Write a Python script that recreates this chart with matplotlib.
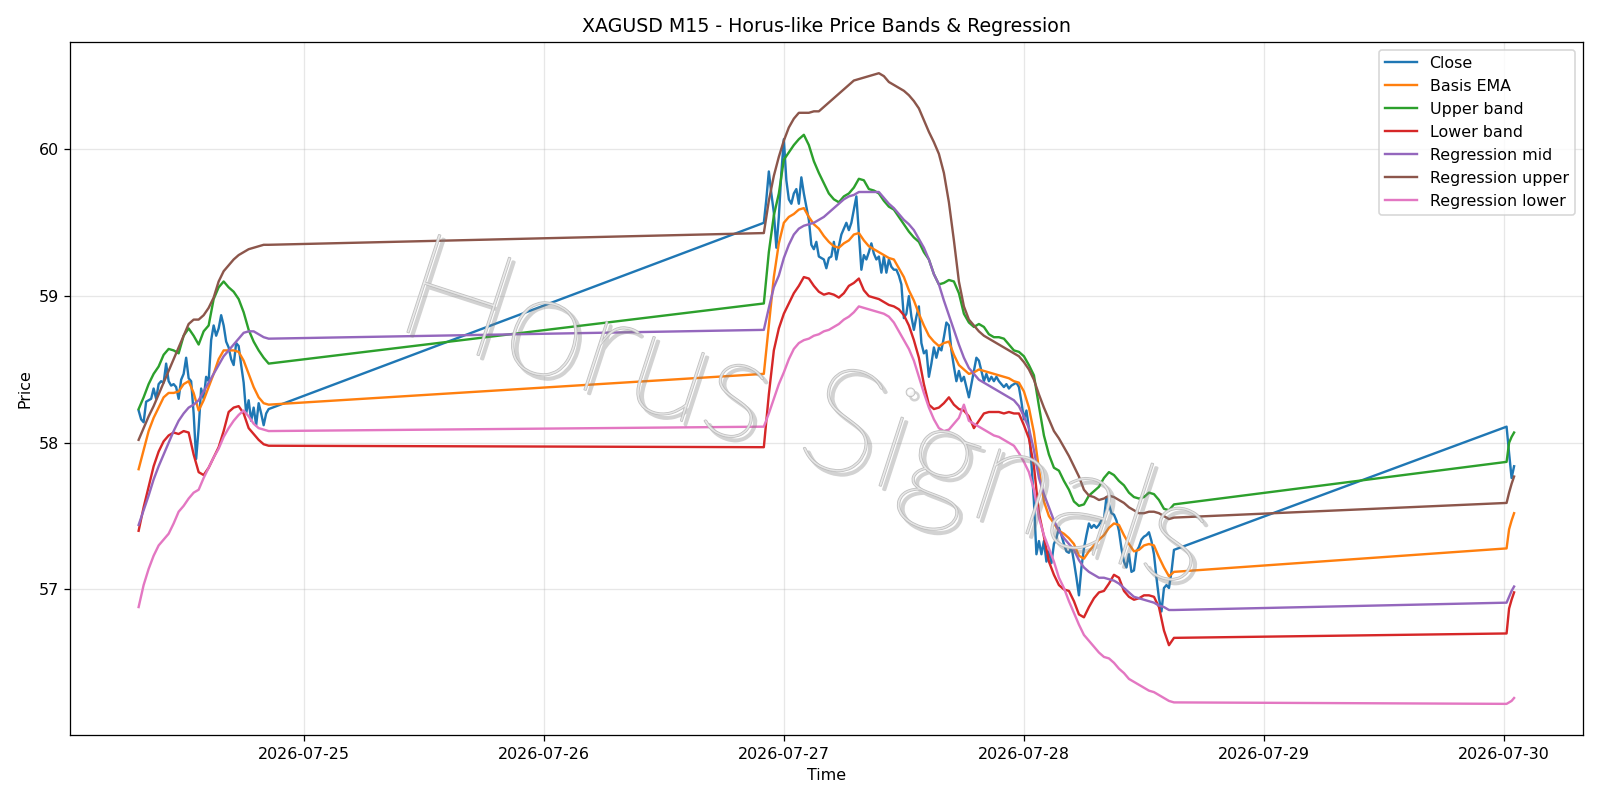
import matplotlib
matplotlib.use("Agg")
import matplotlib.pyplot as plt
import matplotlib.dates as mdates
import matplotlib.patheffects as pe
import pandas as pd

# --- bar times: three trading blocks of M15 bars ---
close_t1 = pd.date_range("2026-07-24 07:30", "2026-07-24 20:30", freq="15min")
close_t2 = pd.date_range("2026-07-26 22:00", "2026-07-28 15:00", freq="15min")
close_t3 = pd.date_range("2026-07-30 00:15", "2026-07-30 01:00", freq="15min")
# bands read every second bar
band_t1 = pd.date_range("2026-07-24 07:30", "2026-07-24 20:30", freq="30min")
band_t2 = pd.date_range("2026-07-26 22:00", "2026-07-28 15:00", freq="30min")
band_t3 = close_t3

# --- Close ---
close_1 = [58.22, 58.16, 58.14, 58.28, 58.29, 58.30, 58.37, 58.30, 58.40, 58.42,
           58.41, 58.54, 58.42, 58.39, 58.40, 58.38, 58.30, 58.43, 58.47, 58.58,
           58.44, 58.42, 58.20, 57.89, 58.10, 58.37, 58.30, 58.45, 58.42, 58.70,
           58.80, 58.73, 58.78, 58.87, 58.80, 58.69, 58.65, 58.57, 58.53, 58.68,
           58.66, 58.53, 58.41, 58.20, 58.29, 58.15, 58.24, 58.12, 58.27, 58.20,
           58.12, 58.20, 58.23]
close_2 = [59.50, 59.66, 59.85, 59.70, 59.57, 59.33, 59.54, 59.84, 60.07, 59.79,
           59.66, 59.63, 59.70, 59.73, 59.63, 59.81, 59.70, 59.61, 59.52, 59.35,
           59.32, 59.37, 59.27, 59.26, 59.25, 59.19, 59.26, 59.27, 59.37, 59.25,
           59.34, 59.42, 59.46, 59.50, 59.45, 59.50, 59.59, 59.68, 59.43, 59.18,
           59.28, 59.25, 59.30, 59.36, 59.29, 59.25, 59.27, 59.16, 59.27, 59.16,
           59.25, 59.20, 59.18, 59.18, 59.14, 59.08, 58.85, 58.88, 59.00, 58.86,
           58.77, 58.86, 58.93, 58.68, 58.61, 58.63, 58.45, 58.54, 58.65, 58.58,
           58.65, 58.63, 58.72, 58.82, 58.80, 58.63, 58.52, 58.42, 58.49, 58.42,
           58.45, 58.38, 58.31, 58.40, 58.49, 58.58, 58.56, 58.49, 58.42, 58.47,
           58.42, 58.45, 58.42, 58.45, 58.42, 58.40, 58.38, 58.40, 58.37, 58.39,
           58.40, 58.41, 58.38, 58.28, 58.16, 58.22, 58.10, 57.86, 57.60, 57.24,
           57.33, 57.24, 57.33, 57.19, 57.26, 57.18, 57.31, 57.35, 57.42, 57.37,
           57.31, 57.26, 57.25, 57.29, 57.19, 57.08, 56.96, 57.15, 57.28, 57.37,
           57.45, 57.42, 57.44, 57.42, 57.44, 57.47, 57.48, 57.63, 57.58, 57.52,
           57.51, 57.47, 57.40, 57.28, 57.19, 57.15, 57.24, 57.12, 57.13, 57.26,
           57.29, 57.34, 57.36, 57.37, 57.39, 57.33, 57.24, 57.08, 56.94, 56.85,
           57.01, 57.03, 57.01, 57.12, 57.27]
close_3 = [58.11, 57.93, 57.76, 57.84]

# --- Basis EMA ---
ema_1 = [57.82, 57.95, 58.08, 58.17, 58.24, 58.31, 58.34, 58.34, 58.35, 58.40,
         58.42, 58.34, 58.22, 58.29, 58.38, 58.47, 58.57, 58.63, 58.63, 58.63,
         58.62, 58.56, 58.47, 58.38, 58.31, 58.27, 58.26]
ema_2 = [58.47, 58.80, 59.13, 59.36, 59.50, 59.54, 59.56, 59.59, 59.60, 59.54,
         59.49, 59.46, 59.41, 59.37, 59.34, 59.33, 59.36, 59.38, 59.42, 59.43,
         59.38, 59.34, 59.32, 59.30, 59.28, 59.26, 59.25, 59.19, 59.13, 59.04,
         58.97, 58.88, 58.80, 58.73, 58.69, 58.66, 58.68, 58.69, 58.60, 58.53,
         58.50, 58.47, 58.48, 58.50, 58.49, 58.48, 58.47, 58.46, 58.45, 58.44,
         58.42, 58.41, 58.35, 58.24, 58.07, 57.82, 57.60, 57.50, 57.45, 57.40,
         57.38, 57.35, 57.31, 57.23, 57.21, 57.26, 57.30, 57.34, 57.37, 57.42,
         57.45, 57.44, 57.37, 57.31, 57.26, 57.27, 57.30, 57.31, 57.30, 57.22,
         57.15, 57.09, 57.12]
ema_3 = [57.28, 57.41, 57.47, 57.52]

# --- Upper band ---
upper_1 = [58.23, 58.31, 58.40, 58.47, 58.52, 58.60, 58.64, 58.63, 58.61, 58.73,
           58.78, 58.73, 58.67, 58.76, 58.80, 58.98, 59.06, 59.10, 59.06, 59.03,
           58.98, 58.89, 58.77, 58.69, 58.63, 58.58, 58.54]
upper_2 = [58.95, 59.30, 59.55, 59.70, 59.93, 59.98, 60.03, 60.07, 60.10, 60.03,
           59.92, 59.84, 59.77, 59.70, 59.66, 59.64, 59.68, 59.70, 59.74, 59.80,
           59.79, 59.73, 59.72, 59.70, 59.65, 59.61, 59.59, 59.54, 59.49, 59.44,
           59.40, 59.37, 59.30, 59.25, 59.15, 59.08, 59.09, 59.11, 59.10, 59.02,
           58.88, 58.82, 58.79, 58.81, 58.79, 58.74, 58.72, 58.72, 58.71, 58.67,
           58.63, 58.62, 58.59, 58.53, 58.46, 58.25, 58.05, 57.92, 57.83, 57.81,
           57.74, 57.68, 57.60, 57.57, 57.58, 57.64, 57.67, 57.70, 57.76, 57.80,
           57.78, 57.74, 57.71, 57.66, 57.63, 57.62, 57.63, 57.66, 57.65, 57.61,
           57.55, 57.54, 57.58]
upper_3 = [57.87, 58.00, 58.04, 58.07]

# --- Lower band ---
lower_1 = [57.40, 57.56, 57.70, 57.84, 57.94, 58.01, 58.05, 58.07, 58.06, 58.08,
           58.07, 57.92, 57.80, 57.78, 57.83, 57.90, 57.97, 58.08, 58.21, 58.24,
           58.25, 58.20, 58.10, 58.06, 58.02, 57.99, 57.98]
lower_2 = [57.97, 58.33, 58.63, 58.78, 58.88, 58.95, 59.02, 59.07, 59.13, 59.12,
           59.07, 59.03, 59.01, 59.02, 59.01, 58.99, 59.02, 59.07, 59.09, 59.12,
           59.04, 59.00, 58.99, 58.98, 58.96, 58.94, 58.93, 58.91, 58.87, 58.80,
           58.70, 58.58, 58.40, 58.26, 58.23, 58.24, 58.27, 58.31, 58.26, 58.23,
           58.22, 58.18, 58.10, 58.15, 58.20, 58.21, 58.21, 58.21, 58.20, 58.21,
           58.20, 58.20, 58.12, 58.03, 57.84, 57.52, 57.36, 57.19, 57.10, 57.03,
           57.00, 56.99, 56.92, 56.83, 56.81, 56.88, 56.94, 56.98, 56.99, 57.04,
           57.10, 57.08, 56.99, 56.95, 56.93, 56.94, 56.96, 56.96, 56.95, 56.88,
           56.72, 56.62, 56.67]
lower_3 = [56.70, 56.87, 56.93, 56.98]

# --- Regression mid ---
reg_mid_1 = [57.44, 57.54, 57.64, 57.75, 57.84, 57.92, 58.00, 58.08, 58.15, 58.20,
             58.24, 58.26, 58.29, 58.35, 58.41, 58.47, 58.53, 58.59, 58.63, 58.67,
             58.71, 58.75, 58.76, 58.76, 58.74, 58.72, 58.71]
reg_mid_2 = [58.77, 58.92, 59.06, 59.14, 59.26, 59.35, 59.42, 59.46, 59.48, 59.49,
             59.50, 59.52, 59.54, 59.57, 59.60, 59.63, 59.66, 59.68, 59.69, 59.71,
             59.71, 59.71, 59.71, 59.71, 59.67, 59.63, 59.60, 59.56, 59.52, 59.49,
             59.45, 59.39, 59.33, 59.25, 59.15, 59.08, 58.97, 58.87, 58.77, 58.67,
             58.58, 58.51, 58.47, 58.43, 58.41, 58.39, 58.37, 58.35, 58.33, 58.31,
             58.29, 58.25, 58.18, 58.10, 57.95, 57.76, 57.65, 57.56, 57.47, 57.40,
             57.35, 57.31, 57.27, 57.20, 57.15, 57.12, 57.10, 57.08, 57.08, 57.07,
             57.06, 57.04, 57.01, 56.98, 56.95, 56.94, 56.93, 56.92, 56.91, 56.89,
             56.88, 56.86, 56.86]
reg_mid_3 = [56.91, 56.95, 56.99, 57.02]

# --- Regression upper ---
reg_up_1 = [58.02, 58.10, 58.18, 58.25, 58.33, 58.41, 58.49, 58.57, 58.65, 58.73,
            58.81, 58.84, 58.84, 58.87, 58.92, 58.99, 59.10, 59.17, 59.21, 59.25,
            59.28, 59.30, 59.32, 59.33, 59.34, 59.35, 59.35]
reg_up_2 = [59.43, 59.65, 59.82, 59.95, 60.06, 60.15, 60.21, 60.25, 60.25, 60.25,
            60.26, 60.26, 60.29, 60.32, 60.35, 60.38, 60.41, 60.44, 60.47, 60.48,
            60.49, 60.50, 60.51, 60.52, 60.50, 60.46, 60.44, 60.42, 60.40, 60.37,
            60.33, 60.28, 60.20, 60.12, 60.05, 59.97, 59.84, 59.64, 59.38, 59.10,
            58.93, 58.84, 58.80, 58.76, 58.73, 58.71, 58.69, 58.67, 58.65, 58.63,
            58.61, 58.59, 58.55, 58.50, 58.43, 58.33, 58.24, 58.16, 58.08, 58.03,
            57.97, 57.91, 57.84, 57.77, 57.68, 57.64, 57.63, 57.61, 57.62, 57.64,
            57.63, 57.61, 57.59, 57.56, 57.54, 57.52, 57.52, 57.53, 57.53, 57.52,
            57.50, 57.48, 57.49]
reg_up_3 = [57.59, 57.66, 57.72, 57.77]

# --- Regression lower ---
reg_lo_1 = [56.88, 57.03, 57.14, 57.23, 57.30, 57.34, 57.38, 57.45, 57.53, 57.57,
            57.62, 57.66, 57.68, 57.76, 57.83, 57.90, 57.96, 58.04, 58.10, 58.15,
            58.19, 58.22, 58.18, 58.13, 58.10, 58.09, 58.08]
reg_lo_2 = [58.11, 58.20, 58.30, 58.40, 58.48, 58.57, 58.64, 58.68, 58.70, 58.71,
            58.73, 58.74, 58.76, 58.77, 58.79, 58.81, 58.84, 58.86, 58.89, 58.93,
            58.92, 58.91, 58.90, 58.89, 58.88, 58.86, 58.82, 58.76, 58.70, 58.64,
            58.56, 58.45, 58.34, 58.24, 58.16, 58.10, 58.08, 58.09, 58.13, 58.17,
            58.26, 58.15, 58.13, 58.11, 58.09, 58.07, 58.05, 58.04, 58.02, 58.00,
            57.98, 57.93, 57.87, 57.80, 57.68, 57.49, 57.37, 57.28, 57.19, 57.08,
            57.01, 56.92, 56.84, 56.76, 56.69, 56.65, 56.61, 56.57, 56.54, 56.53,
            56.50, 56.46, 56.43, 56.39, 56.37, 56.35, 56.33, 56.31, 56.30, 56.28,
            56.26, 56.24, 56.23]
reg_lo_3 = [56.22, 56.23, 56.24, 56.26]

close_t = close_t1.append([close_t2, close_t3])
band_t = band_t1.append([band_t2, band_t3])

series = [
    ("Close", close_t, close_1 + close_2 + close_3),
    ("Basis EMA", band_t, ema_1 + ema_2 + ema_3),
    ("Upper band", band_t, upper_1 + upper_2 + upper_3),
    ("Lower band", band_t, lower_1 + lower_2 + lower_3),
    ("Regression mid", band_t, reg_mid_1 + reg_mid_2 + reg_mid_3),
    ("Regression upper", band_t, reg_up_1 + reg_up_2 + reg_up_3),
    ("Regression lower", band_t, reg_lo_1 + reg_lo_2 + reg_lo_3),
]

DPI = 1600 / 14
fig, ax = plt.subplots(figsize=(14, 7), dpi=DPI)
for label, t, v in series:
    ax.plot(t, v, label=label, linewidth=1.5)

ax.set_title("XAGUSD M15 - Horus-like Price Bands & Regression")
ax.set_xlabel("Time")
ax.set_ylabel("Price")
ax.grid(True, alpha=0.3)
ax.legend(loc="upper right")
ax.xaxis.set_major_locator(mdates.DayLocator())
ax.xaxis.set_major_formatter(mdates.DateFormatter("%Y-%m-%d"))

# watermark: thin white letters with a grey rim and drop shadow
ax.text(0.485, 0.455, "Horus Signals", transform=ax.transAxes,
        family="Lato", fontweight="light", fontsize=92, rotation=-18,
        ha="center", va="center", color=(1, 1, 1, 0.6), zorder=10,
        path_effects=[
            pe.SimpleLineShadow(offset=(2.5, -2.5), shadow_color="gray", alpha=0.35, linewidth=1.6),
            pe.Stroke(linewidth=1.0, foreground=(0.72, 0.72, 0.72, 0.9)),
            pe.Normal(),
        ])

plt.tight_layout()
plt.savefig("out.png", dpi=DPI)
